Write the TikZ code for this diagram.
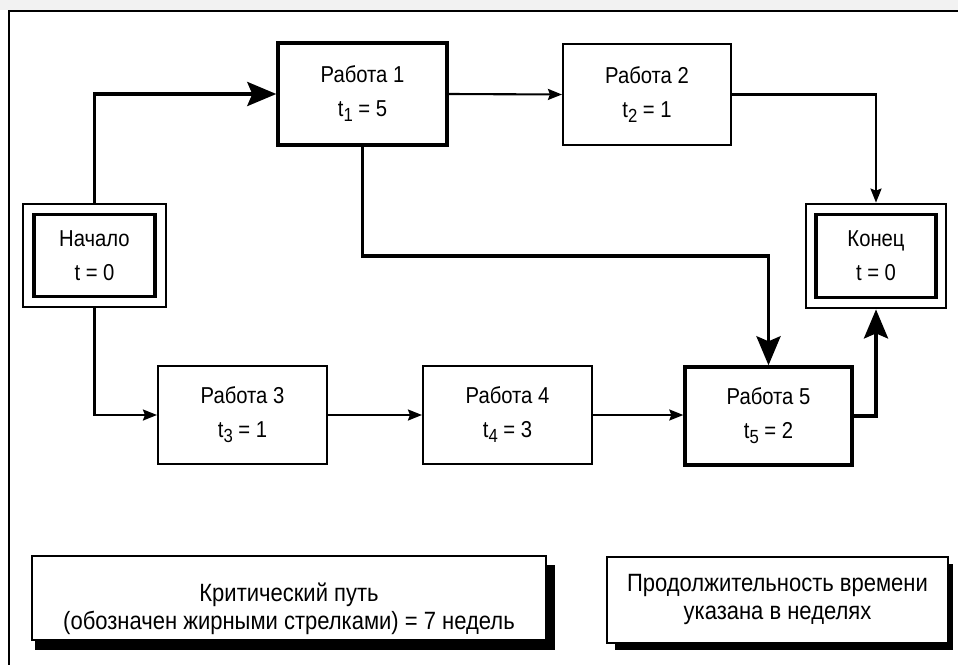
\documentclass[tikz,border=0pt]{standalone}
\usepackage{fontspec}
\newfontfamily\narrowsans[FakeStretch=0.88]{Liberation Sans}
\usetikzlibrary{arrows.meta}
\newcommand\worktext{\narrowsans\fontsize{23}{34}\selectfont}
\newcommand\notetext{\narrowsans\fontsize{25}{28}\selectfont}
\newcommand\tsub[1]{\raisebox{-5pt}{\fontsize{19}{19}\selectfont #1}}
\begin{document}
\begin{tikzpicture}[x=1pt,y=-1pt,
  workbox/.style={draw, line width=2.1pt, fill=white, inner sep=0pt, minimum width=169pt, minimum height=100pt, align=center, font=\worktext},
  critbox/.style={workbox, line width=3.4pt},
  outerdbl/.style={draw, line width=2.8pt, minimum width=143pt, minimum height=103pt, inner sep=0pt},
  innerdbl/.style={draw, line width=3.4pt, minimum width=121pt, minimum height=82pt, inner sep=0pt, align=center, font=\worktext},
  thinarrow/.style={line width=2.1pt, -{Stealth[length=14pt,width=11pt,inset=2pt]}},
  thickarrow/.style={line width=3.8pt, -{Stealth[length=29pt,width=24pt,inset=5pt]}},
  notebox/.style={draw, line width=2.4pt, fill=white, inner sep=0pt},
  notetxt/.style={align=center, inner sep=0pt, font=\notetext}]
\useasboundingbox (0,0) rectangle (958,664);
\fill[gray!10] (0,0) rectangle (958,10);
\draw[line width=2.8pt] (9,668) -- (9,11) -- (962,11);

\node[critbox, minimum width=169pt, minimum height=102pt] (r1) at (362.5,94) {Работа 1\\t\tsub{1} = 5};
\node[workbox, minimum width=168pt, minimum height=101pt] (r2) at (647,94.5) {Работа 2\\t\tsub{2} = 1};
\node[workbox, minimum height=98pt] (r3) at (242.5,415) {Работа 3\\t\tsub{3} = 1};
\node[workbox, minimum height=98pt] (r4) at (507.5,415) {Работа 4\\t\tsub{4} = 3};
\node[critbox, minimum width=167pt, minimum height=98pt] (r5) at (768.5,416) {Работа 5\\t\tsub{5} = 2};
\node[outerdbl] (nach) at (94.5,255.5) {};
\node[innerdbl] (nachi) at (94.5,255.5) {Начало\\t = 0};
\node[outerdbl, minimum width=140pt, minimum height=104pt] (kon) at (876,256) {};
\node[innerdbl, minimum width=120pt, minimum height=83pt] (koni) at (876,256) {Конец\\t = 0};

\draw[thickarrow] (nach.north) |- (r1.west);
\draw[thinarrow] (nach.south) |- (r3.west);
\draw[thinarrow] (r1.east) -- (r2.west);
\draw[thinarrow] (r2.east) -| (kon.north);
\coordinate (mid) at (0,256);
\draw[thickarrow] (r1.south) -- (r1.south |- mid) -- (r5.north |- mid) -- (r5.north);
\draw[thinarrow] (r3.east) -- (r4.west);
\draw[thinarrow] (r4.east) -- (r5.west |- r4.east);
\draw[thickarrow] (r5.east) -| (kon.south);

\fill (35,565) rectangle (555,650);
\node[notebox, minimum width=514pt, minimum height=84pt] (crit) at (289,598) {};
\node[notetxt] (critt) at (289,609) {Критический путь\\(обозначен жирными стрелками) = 7 недель};
\fill (615,564) rectangle (953,650);
\node[notebox, minimum width=341pt, minimum height=86pt] (dur) at (777.5,600) {};
\node[notetxt] (durt) at (777.5,599) {Продолжительность времени\\указана в неделях};
\end{tikzpicture}
\end{document}
